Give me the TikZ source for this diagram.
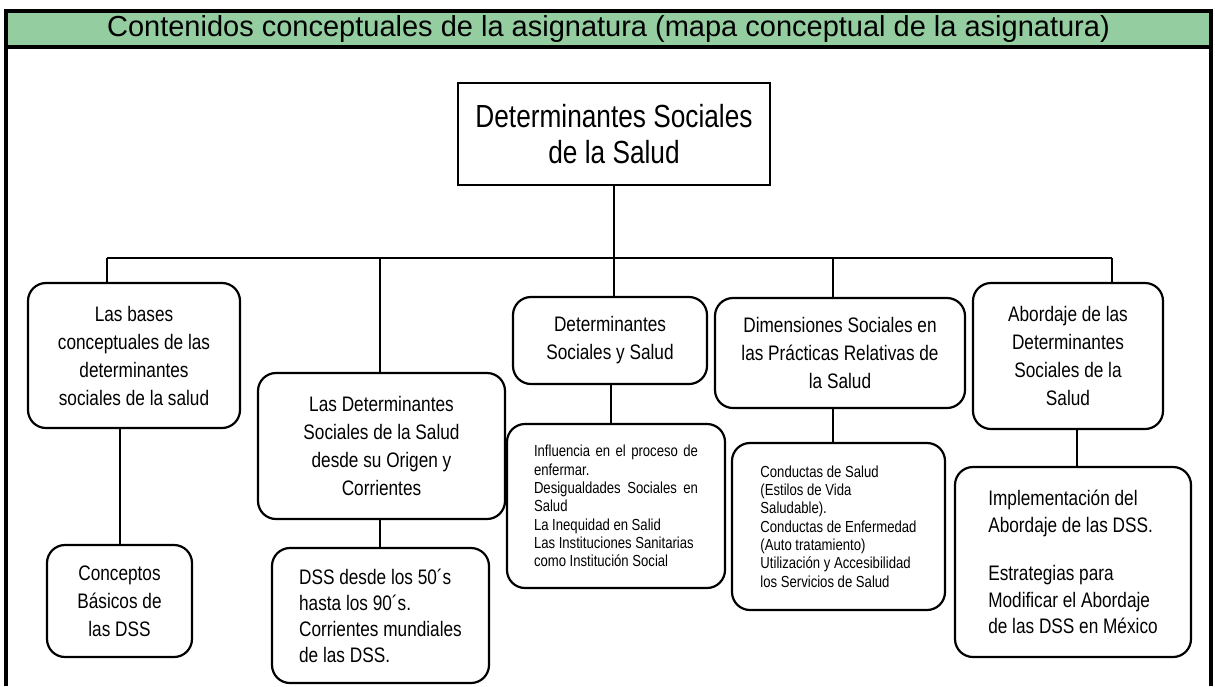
\documentclass[tikz,border=0pt]{standalone}
\usepackage{fontspec}
\setmainfont{Liberation Sans}
\newfontfamily\narrowsf{Liberation Sans}[FakeStretch=0.82]
\usepackage{tikz}
\usetikzlibrary{positioning}
\definecolor{verdetitulo}{RGB}{147,205,160}

\begin{document}
\begin{tikzpicture}[x=1pt, y=-1pt]
	\tikzstyle{caja}=[draw, rounded corners=18pt, line width=2.2pt, inner sep=0pt,
	                        align=center, font=\narrowsf\fontsize{21}{28}\selectfont];
	\tikzstyle{chica}=[caja, font=\narrowsf\fontsize{16}{18.3}\selectfont];
	\tikzstyle{rama}=[line width=1.8pt];
	\useasboundingbox (0,0) rectangle (1215,686);
	% marco
	\draw[line width=3.5pt] (6,686) -- (6,11) -- (1211,11) -- (1211,686);
	\node[draw, line width=3.5pt, fill=verdetitulo, inner sep=0pt, minimum width=1205pt,
	      minimum height=36pt, font=\fontsize{29}{30}\selectfont] (titulo) at (608.5,29)
	      {Contenidos conceptuales de la asignatura (mapa conceptual de la asignatura)};
	% nodos
	\node[draw, line width=1.5pt, inner sep=0pt, minimum width=312pt, minimum height=102pt,
	      align=center, font=\narrowsf\fontsize{32}{36}\selectfont] (dss) at (614,134)
	      {Determinantes Sociales\\de la Salud};
	\node[caja, minimum width=212pt, minimum height=145pt] (bases) at (134,355.5)
	      {Las bases\\conceptuales de las\\determinantes\\sociales de la salud};
	\node[caja, minimum width=145pt, minimum height=112pt] (conceptos) at (119.5,601)
	      {Conceptos\\Básicos de\\las DSS};
	\node[caja, minimum width=247pt, minimum height=146pt] (origen) at (381.5,446)
	      {Las Determinantes\\Sociales de la Salud\\desde su Origen y\\Corrientes};
	\node[caja, align=left, minimum width=217pt, minimum height=135pt,
	      font=\narrowsf\fontsize{21}{26}\selectfont] (corrientes) at (380.5,615.5)
	      {DSS desde los 50´s\\hasta los 90´s.\\Corrientes mundiales\\de las DSS.};
	\node[caja, minimum width=194pt, minimum height=87pt] (dys) at (610,340.5)
	      {Determinantes\\Sociales y Salud};
	\node[chica, align=justify, text width=164pt, minimum width=218pt, minimum height=164pt]
	      (influencia) at (616,506)
	      {Influencia en el proceso de\linebreak enfermar.\\Desigualdades Sociales en\linebreak Salud\\La Inequidad en Salid\\Las Instituciones Sanitarias\\como Institución Social};
	\node[caja, minimum width=250pt, minimum height=110pt] (dimensiones) at (840,353)
	      {Dimensiones Sociales en\\las Prácticas Relativas de\\la Salud};
	\node[chica, align=left, minimum width=213pt, minimum height=167pt] (conductas) at (838.5,526.5)
	      {Conductas de Salud\\(Estilos de Vida\\Saludable).\\Conductas de Enfermedad\\(Auto tratamiento)\\Utilización y Accesibilidad\\los Servicios de Salud};
	\node[caja, minimum width=190pt, minimum height=146pt] (abordaje) at (1068,356)
	      {Abordaje de las\\Determinantes\\Sociales de la\\Salud};
	\node[caja, align=left, minimum width=236pt, minimum height=190pt,
	      font=\narrowsf\fontsize{21}{26.5}\selectfont] (estrategias) at (1073,562)
	      {Implementación del\\Abordaje de las DSS.\\[22pt]Estrategias para\\Modificar el Abordaje\\de las DSS en México};
	% conectores
	\coordinate (izq) at (107,258);
	\coordinate (der) at (1112,258);
	\draw[rama] (dss.south) -- (dss.south |- izq);
	\draw[line width=2.5pt] (izq) -- (der);
	\draw[rama] (izq) -- (izq |- bases.north);
	\draw[rama] (der) -- (der |- abordaje.north);
	\foreach \x/\n in {380/origen, 614/dys, 833/dimensiones}
	{\draw[rama] (\n.north -| \x,0) -- (izq -| \x,0);}
	\foreach \x/\a/\b in {120/bases/conceptos, 380/origen/corrientes, 611/dys/influencia,
	                      833/dimensiones/conductas, 1077/abordaje/estrategias}
	{\draw[rama] (\a.south -| \x,0) -- (\b.north -| \x,0);}
\end{tikzpicture}
\end{document}
